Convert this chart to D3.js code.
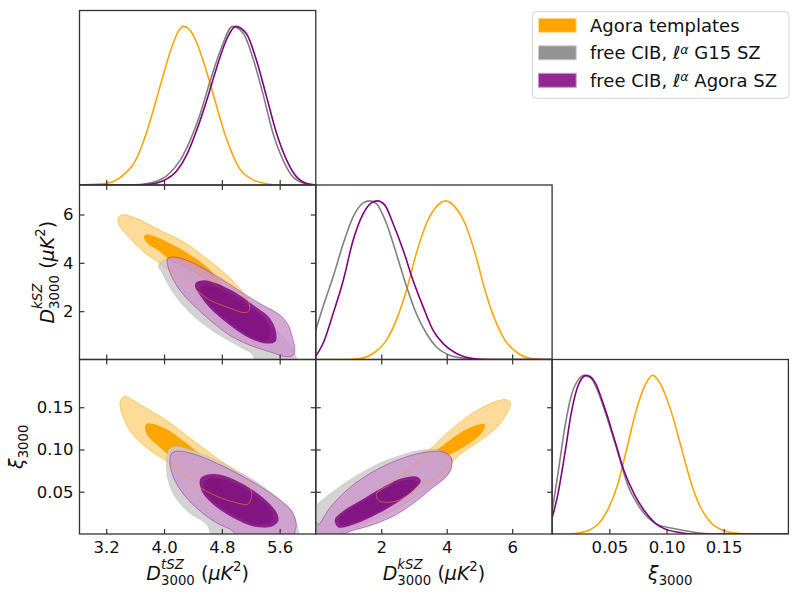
<!DOCTYPE html>
<html>
<head>
<meta charset="utf-8">
<script src="https://cdn.jsdelivr.net/npm/d3@7.9.0/dist/d3.min.js"></script>
<style>
  body { margin: 0; background: #fff; }
  svg { display: block; font-family: "DejaVu Sans", sans-serif; }
  svg text { white-space: pre; }
</style>
</head>
<body>
<svg id="chart" width="800" height="597"></svg>
<script>
// --- axis ranges and ticks ---
const tszDomain = [2.83, 6.10];
const tszTicks = [3.2, 4.0, 4.8, 5.6];
const kszDomain = [0, 7.22];
const kszTicks = [2, 4, 6];
const xiDomain = [0, 0.2065];
const xiTicks = [0.05, 0.10, 0.15];

// --- 1D marginals [value, normalised density] ---
const tszAgora = [[2.83,0],[3.2,0.01],[3.4,0.05],[3.6,0.15],[3.75,0.32],[3.9,0.55],[4.0,0.71],[4.1,0.86],[4.2,0.97],[4.27,1.0],[4.35,0.98],[4.45,0.9],[4.55,0.77],[4.65,0.62],[4.75,0.46],[4.85,0.31],[4.95,0.19],[5.05,0.1],[5.2,0.04],[5.4,0.01],[5.6,0],[6.1,0]];
const tszG15 = [[2.83,0],[3.5,0],[3.67,0.003],[3.85,0.017],[4.04,0.059],[4.22,0.154],[4.36,0.28],[4.5,0.448],[4.64,0.659],[4.78,0.848],[4.95,1.0],[5.1,0.954],[5.24,0.785],[5.38,0.554],[5.51,0.322],[5.65,0.154],[5.79,0.048],[5.98,0.006],[6.1,0]];
const tszAgoraSZ = [[2.83,0],[3.6,0],[3.76,0.003],[3.99,0.027],[4.18,0.091],[4.32,0.196],[4.45,0.343],[4.59,0.533],[4.73,0.743],[4.87,0.922],[4.99,1.0],[5.14,0.954],[5.28,0.785],[5.42,0.554],[5.56,0.322],[5.7,0.154],[5.84,0.048],[6.02,0.004],[6.1,0]];

const kszAgora = [[0,0],[0.84,0],[1.34,0.006],[1.75,0.038],[2.16,0.122],[2.46,0.248],[2.77,0.437],[3.07,0.668],[3.38,0.857],[3.68,0.962],[3.97,1.0],[4.25,0.962],[4.56,0.857],[4.87,0.668],[5.17,0.437],[5.48,0.248],[5.78,0.122],[6.19,0.038],[6.6,0.006],[7.1,0],[7.22,0]];
const kszG15 = [[0,0.185],[0.22,0.332],[0.53,0.521],[0.84,0.731],[1.14,0.899],[1.45,0.987],[1.65,1.0],[1.85,0.983],[2.16,0.857],[2.46,0.668],[2.77,0.462],[3.07,0.29],[3.38,0.164],[3.68,0.08],[4.09,0.027],[4.6,0.006],[5.11,0],[7.22,0]];
const kszAgoraSZ = [[0,0.021],[0.22,0.101],[0.53,0.29],[0.84,0.5],[1.14,0.752],[1.45,0.92],[1.7,0.987],[1.88,1.0],[2.11,0.973],[2.36,0.857],[2.67,0.689],[2.97,0.5],[3.28,0.332],[3.58,0.185],[3.89,0.101],[4.3,0.038],[4.8,0.006],[5.31,0],[7.22,0]];

const xiAgora = [[0,0],[0.015,0],[0.0226,0.006],[0.0331,0.027],[0.0412,0.069],[0.0494,0.164],[0.0573,0.311],[0.0654,0.542],[0.0733,0.773],[0.0814,0.941],[0.088,1.0],[0.095,0.941],[0.104,0.773],[0.113,0.542],[0.122,0.311],[0.13,0.164],[0.139,0.069],[0.148,0.027],[0.16,0.006],[0.174,0],[0.2065,0]];
const xiG15 = [[0,0.143],[0.005,0.374],[0.011,0.668],[0.017,0.878],[0.023,0.973],[0.028,1.0],[0.034,0.983],[0.04,0.899],[0.049,0.71],[0.058,0.5],[0.066,0.311],[0.075,0.185],[0.084,0.101],[0.0925,0.059],[0.104,0.038],[0.116,0.021],[0.1275,0.008],[0.139,0.002],[0.16,0],[0.2065,0]];
const xiAgoraSZ = [[0,0.101],[0.005,0.248],[0.011,0.5],[0.017,0.773],[0.023,0.941],[0.03,1.0],[0.037,0.962],[0.046,0.794],[0.055,0.584],[0.063,0.395],[0.072,0.248],[0.081,0.143],[0.09,0.069],[0.098,0.034],[0.11,0.011],[0.122,0],[0.2065,0]];

// --- 2D contours (95% and 68%), tSZ vs kSZ ---
const tkAgora95 = [[3.37,5.89],[3.44,5.99],[3.62,5.83],[3.95,5.34],[4.27,4.86],[4.59,4.17],[4.82,3.62],[5.05,2.93],[5.17,2.38],[5.18,2.04],[5.12,1.94],[4.87,2.17],[4.64,2.45],[4.48,2.79],[4.22,3.36],[3.95,3.97],[3.72,4.45],[3.49,5.14],[3.37,5.62]];
const tkAgora68 = [[3.72,5.07],[3.76,5.17],[3.95,5.0],[4.18,4.65],[4.39,4.27],[4.6,3.81],[4.75,3.32],[4.82,2.99],[4.83,2.86],[4.75,2.82],[4.57,3.03],[4.36,3.36],[4.15,3.86],[3.95,4.45],[3.77,4.81]];
const tkG15_95 = [[3.92,3.86],[3.95,4.02],[4.02,4.14],[4.15,4.02],[4.43,3.61],[4.78,2.95],[5.12,2.24],[5.4,1.62],[5.63,1.0],[5.77,0.47],[5.83,-0.11],[5.26,-0.11],[5.23,0.18],[5.01,0.59],[4.73,1.07],[4.45,1.69],[4.22,2.38],[4.06,3.07],[3.97,3.61]];
const tkG15_68 = [[4.5,3.0],[4.6,3.07],[4.76,2.95],[5.0,2.6],[5.2,2.18],[5.4,1.7],[5.47,1.2],[5.45,0.85],[5.36,0.8],[5.16,1.0],[4.92,1.5],[4.68,2.12],[4.54,2.65],[4.5,2.85]];
const tkAsz95 = [[4.05,4.17],[4.13,4.24],[4.32,4.1],[4.55,3.76],[4.82,3.28],[5.1,2.73],[5.37,2.24],[5.61,1.83],[5.72,1.42],[5.78,0.87],[5.81,0.45],[5.79,0.18],[5.7,0.11],[5.47,0.31],[5.19,0.59],[4.91,1.0],[4.64,1.62],[4.41,2.24],[4.22,2.86],[4.11,3.41],[4.05,3.9]];
const tkAsz68 = [[4.44,3.18],[4.55,3.28],[4.73,3.14],[5.01,2.73],[5.24,2.24],[5.47,1.69],[5.55,1.14],[5.54,0.73],[5.42,0.66],[5.19,0.87],[4.91,1.42],[4.64,2.11],[4.48,2.73],[4.43,3.0]];

// --- tSZ vs xi ---
const txAgora95 = [[3.42,0.161],[3.46,0.163],[3.67,0.153],[4.04,0.134],[4.41,0.11],[4.73,0.09],[5.05,0.07],[5.19,0.055],[5.21,0.043],[5.15,0.035],[5.05,0.036],[4.78,0.043],[4.5,0.055],[4.13,0.08],[4.04,0.086],[3.76,0.102],[3.53,0.122],[3.42,0.142],[3.39,0.155]];
const txAgora68 = [[3.74,0.128],[3.78,0.131],[4.04,0.124],[4.27,0.11],[4.5,0.094],[4.64,0.081],[4.78,0.059],[4.8,0.049],[4.71,0.05],[4.5,0.063],[4.29,0.076],[4.08,0.092],[3.95,0.102],[3.76,0.118]];
const txG15_95 = [[4.06,0.1],[4.15,0.104],[4.36,0.1],[4.71,0.088],[5.12,0.07],[5.47,0.05],[5.74,0.029],[5.85,0.008],[5.85,-0.009],[4.71,-0.009],[4.59,0.011],[4.32,0.027],[4.13,0.047],[4.04,0.07],[4.04,0.094]];
const txG15_68 = [[4.56,0.062],[4.65,0.066],[4.8,0.065],[5.05,0.057],[5.33,0.041],[5.5,0.025],[5.5,0.016],[5.4,0.012],[5.2,0.013],[4.95,0.023],[4.7,0.037],[4.57,0.05]];
const txAsz95 = [[4.11,0.096],[4.22,0.098],[4.5,0.092],[4.87,0.078],[5.24,0.061],[5.56,0.043],[5.77,0.027],[5.83,0.011],[5.81,0.003],[5.81,-0.009],[5.05,-0.009],[4.96,0.003],[4.73,0.013],[4.5,0.027],[4.27,0.047],[4.13,0.067],[4.08,0.086]];
const txAsz68 = [[4.5,0.065],[4.59,0.07],[4.78,0.07],[5.05,0.061],[5.37,0.043],[5.56,0.025],[5.58,0.015],[5.49,0.009],[5.24,0.009],[4.96,0.019],[4.68,0.035],[4.52,0.051]];

// --- kSZ vs xi ---
const kxAgora95 = [[5.95,0.155],[5.92,0.15],[5.62,0.13],[5.01,0.11],[4.4,0.094],[4.09,0.082],[3.79,0.07],[3.18,0.055],[2.46,0.039],[1.95,0.039],[1.85,0.047],[2.26,0.059],[2.87,0.078],[3.48,0.1],[4.09,0.122],[4.91,0.146],[5.52,0.157],[5.82,0.159]];
const kxAgora68 = [[5.16,0.13],[5.11,0.122],[4.8,0.11],[4.4,0.1],[4.09,0.094],[3.63,0.085],[3.02,0.073],[2.72,0.067],[2.66,0.072],[3.02,0.082],[3.79,0.102],[4.19,0.114],[4.6,0.124],[5.01,0.13]];
const kxG15_95 = [[-0.49,0.017],[0,0.034],[0.83,0.059],[1.85,0.082],[2.67,0.094],[3.38,0.1],[3.88,0.098],[4.15,0.088],[4.09,0.074],[3.79,0.062],[3.18,0.047],[2.41,0.029],[1.65,0.015],[0.89,0.003],[0.12,-0.009],[-0.49,-0.009]];
const kxG15_68 = [[0.7,0.017],[0.9,0.026],[1.35,0.037],[1.95,0.05],[2.5,0.061],[2.95,0.064],[3.08,0.06],[2.95,0.053],[2.5,0.04],[1.85,0.025],[1.2,0.014],[0.78,0.011]];
const kxAsz95 = [[0,0.015],[0.07,0.011],[0.43,0.031],[1.04,0.055],[1.85,0.076],[2.67,0.09],[3.38,0.097],[3.89,0.097],[4.14,0.09],[4.14,0.078],[3.99,0.068],[3.58,0.055],[3.07,0.039],[2.46,0.023],[1.75,0.011],[1.04,0.003],[0.43,-0.007],[-0.06,-0.007]];
const kxAsz68 = [[0.58,0.017],[0.83,0.027],[1.34,0.039],[1.95,0.053],[2.56,0.065],[3.07,0.068],[3.21,0.063],[3.07,0.055],[2.56,0.039],[1.85,0.023],[1.14,0.011],[0.68,0.008]];

const series = [
  { name: 'Agora templates', color: '#ffa500', pale: '#ffdb99', alpha: 1, edge: 0.5 },
  { name: 'free CIB, ', sup: 'G15 SZ', color: '#808080', pale: '#cccccc', alpha: 0.85, edge: 0.15 },
  { name: 'free CIB, ', sup: 'Agora SZ', color: '#800080', pale: '#cc99cc', alpha: 0.85, edge: 0.4 },
];

const params = [
  { domain: tszDomain, ticks: tszTicks, fmt: d3.format('.1f') },
  { domain: kszDomain, ticks: kszTicks, fmt: d3.format('d') },
  { domain: xiDomain, ticks: xiTicks, fmt: d3.format('.2f') },
];
const marginals = [
  [tszAgora, tszG15, tszAgoraSZ],
  [kszAgora, kszG15, kszAgoraSZ],
  [xiAgora, xiG15, xiAgoraSZ],
];
const pairs = [
  { row: 1, col: 0, sets: [[tkAgora95, tkAgora68], [tkG15_95, tkG15_68], [tkAsz95, tkAsz68]] },
  { row: 2, col: 0, sets: [[txAgora95, txAgora68], [txG15_95, txG15_68], [txAsz95, txAsz68]] },
  { row: 2, col: 1, sets: [[kxAgora95, kxAgora68], [kxG15_95, kxG15_68], [kxAsz95, kxAsz68]] },
];

// --- layout ---
const L = 79.5, T = 10.5, PW = 236.3, PH = 174.5;
const ink = '#111';
const svg = d3.select('#chart');

const xScale = (i) => d3.scaleLinear().domain(params[i].domain).range([0, PW]);
const yScale = (i) => d3.scaleLinear().domain(params[i].domain).range([PH, 0]);
const pScale = d3.scaleLinear().domain([0, 1.1]).range([PH, 0]);

function styleAxis(g) {
  g.select('.domain').remove();
  g.selectAll('line').attr('stroke', '#333').attr('stroke-width', 1.2);
  g.selectAll('text').attr('font-size', 16.5).attr('fill', ink)
    .attr('font-family', '"DejaVu Sans", sans-serif');
}

function panel(row, col) {
  const g = svg.append('g').attr('transform', `translate(${L + col * PW},${T + row * PH})`);
  const id = `clip-${row}-${col}`;
  g.append('clipPath').attr('id', id).append('rect').attr('width', PW).attr('height', PH);
  const body = g.append('g').attr('clip-path', `url(#${id})`);
  return { g, body };
}

function addTicks(g, row, col, is1D) {
  const xs = xScale(col);
  g.append('g').attr('transform', `translate(0,${PH})`)
    .call(d3.axisBottom(xs).tickValues(params[col].ticks).tickSize(-5).tickPadding(7)
      .tickFormat(row === 2 ? params[col].fmt : ''))
    .call(styleAxis);
  if (is1D) return;
  const ys = yScale(row);
  g.append('g')
    .call(d3.axisTop(xs).tickValues(params[col].ticks).tickSize(-5).tickFormat(''))
    .call(styleAxis);
  g.append('g')
    .call(d3.axisLeft(ys).tickValues(params[row].ticks).tickSize(-5).tickPadding(6)
      .tickFormat(col === 0 ? params[row].fmt : ''))
    .call(styleAxis);
  g.append('g').attr('transform', `translate(${PW},0)`)
    .call(d3.axisRight(ys).tickValues(params[row].ticks).tickSize(-5).tickFormat(''))
    .call(styleAxis);
}

function frame(g) {
  g.append('rect').attr('width', PW).attr('height', PH)
    .attr('fill', 'none').attr('stroke', '#333').attr('stroke-width', 1.3);
}

// --- 1D panels ---
marginals.forEach((curves, i) => {
  const { g, body } = panel(i, i);
  const xs = xScale(i);
  const line = d3.line().curve(d3.curveMonotoneX).x(d => xs(d[0])).y(d => pScale(d[1]));
  curves.forEach((c, s) => {
    body.append('path').attr('d', line(c)).attr('fill', 'none')
      .attr('stroke', series[s].color).attr('stroke-width', 1.6);
  });
  addTicks(g, i, i, true);
  frame(g);
});

// --- 2D panels ---
pairs.forEach(({ row, col, sets }) => {
  const { g, body } = panel(row, col);
  const xs = xScale(col), ys = yScale(row);
  const shape = d3.line().curve(d3.curveCatmullRomClosed.alpha(0.5))
    .x(d => xs(d[0])).y(d => ys(d[1]));
  sets.forEach(([c95, c68], s) => {
    const grp = body.append('g').attr('opacity', series[s].alpha);
    grp.append('path').attr('d', shape(c95)).attr('fill', series[s].pale);
    grp.append('path').attr('d', shape(c68)).attr('fill', series[s].color);
  });
  // outer contour edges sit above all fills
  sets.forEach(([c95], s) => {
    body.append('path').attr('d', shape(c95)).attr('fill', 'none')
      .attr('stroke', series[s].color).attr('stroke-width', 1)
      .attr('stroke-opacity', series[s].edge);
  });
  addTicks(g, row, col, false);
  frame(g);
});

// --- math-style axis labels ---
function mathLabel(transform, tokens, fs) {
  const g = svg.append('g').attr('transform', transform).attr('fill', ink);
  const inner = g.append('g');
  let x = 0;
  for (const tk of tokens) {
    if (tk.gap) { x += tk.gap * fs; continue; }
    if (tk.t !== undefined) {
      const el = inner.append('text').attr('x', x).attr('font-size', fs)
        .attr('font-style', tk.it ? 'italic' : 'normal').text(tk.t);
      x += el.node().getComputedTextLength();
      continue;
    }
    let w = 0;
    if (tk.sup) {
      const el = inner.append('text').attr('x', x).attr('y', -fs * (tk.up || 0.6))
        .attr('font-size', fs * 0.7).attr('font-style', tk.supIt ? 'italic' : 'normal').text(tk.sup);
      w = Math.max(w, el.node().getComputedTextLength());
    }
    if (tk.sub) {
      const el = inner.append('text').attr('x', x).attr('y', fs * 0.27)
        .attr('font-size', fs * 0.7).text(tk.sub);
      w = Math.max(w, el.node().getComputedTextLength());
    }
    x += w;
  }
  inner.attr('transform', `translate(${-x / 2},0)`);
}

const unitTokens = [{ gap: 0.33 }, { t: '(' }, { t: 'μK', it: true }, { sup: '2', up: 0.45 }, { t: ')' }];
const fsLab = 19;
const colMid = (c) => L + (c + 0.5) * PW;
const rowMid = (r) => T + (r + 0.5) * PH;

mathLabel(`translate(${colMid(0)},580)`, [{ t: 'D', it: true }, { sup: 'tSZ', supIt: true, sub: '3000' }, ...unitTokens], fsLab);
mathLabel(`translate(${colMid(1)},580)`, [{ t: 'D', it: true }, { sup: 'kSZ', supIt: true, sub: '3000' }, ...unitTokens], fsLab);
mathLabel(`translate(${colMid(2)},579.5)`, [{ t: 'ξ', it: true }, { sub: '3000' }], fsLab);
mathLabel(`translate(53.5,${rowMid(1)}) rotate(-90)`, [{ t: 'D', it: true }, { sup: 'kSZ', supIt: true, sub: '3000' }, ...unitTokens], fsLab);
mathLabel(`translate(23,${rowMid(2)}) rotate(-90)`, [{ t: 'ξ', it: true }, { sub: '3000' }], fsLab);

// --- legend ---
const legend = svg.append('g').attr('transform', 'translate(532.5,11.7)');
legend.append('rect').attr('width', 256.5).attr('height', 86.6).attr('rx', 4)
  .attr('fill', '#fff').attr('fill-opacity', 0.8).attr('stroke', '#d6d6d6').attr('stroke-width', 1);
series.forEach((s, i) => {
  const cy = 13.6 + i * 27.5;
  legend.append('rect').attr('x', 6).attr('y', cy - 7).attr('width', 37.7).attr('height', 14)
    .attr('fill', s.color).attr('fill-opacity', s.alpha)
    .attr('stroke', s.pale).attr('stroke-width', 1);
  const txt = legend.append('text').attr('x', 57.5).attr('y', cy + 6.3)
    .attr('font-size', 18).attr('fill', ink);
  txt.append('tspan').text(s.name);
  if (s.sup) {
    txt.append('tspan').attr('font-style', 'italic').text('ℓ');
    txt.append('tspan').attr('font-style', 'italic').attr('font-size', 12.6).attr('dy', -5.5).text('α');
    txt.append('tspan').attr('dy', 5.5).text(' ' + s.sup);
  }
});
</script>
</body>
</html>
